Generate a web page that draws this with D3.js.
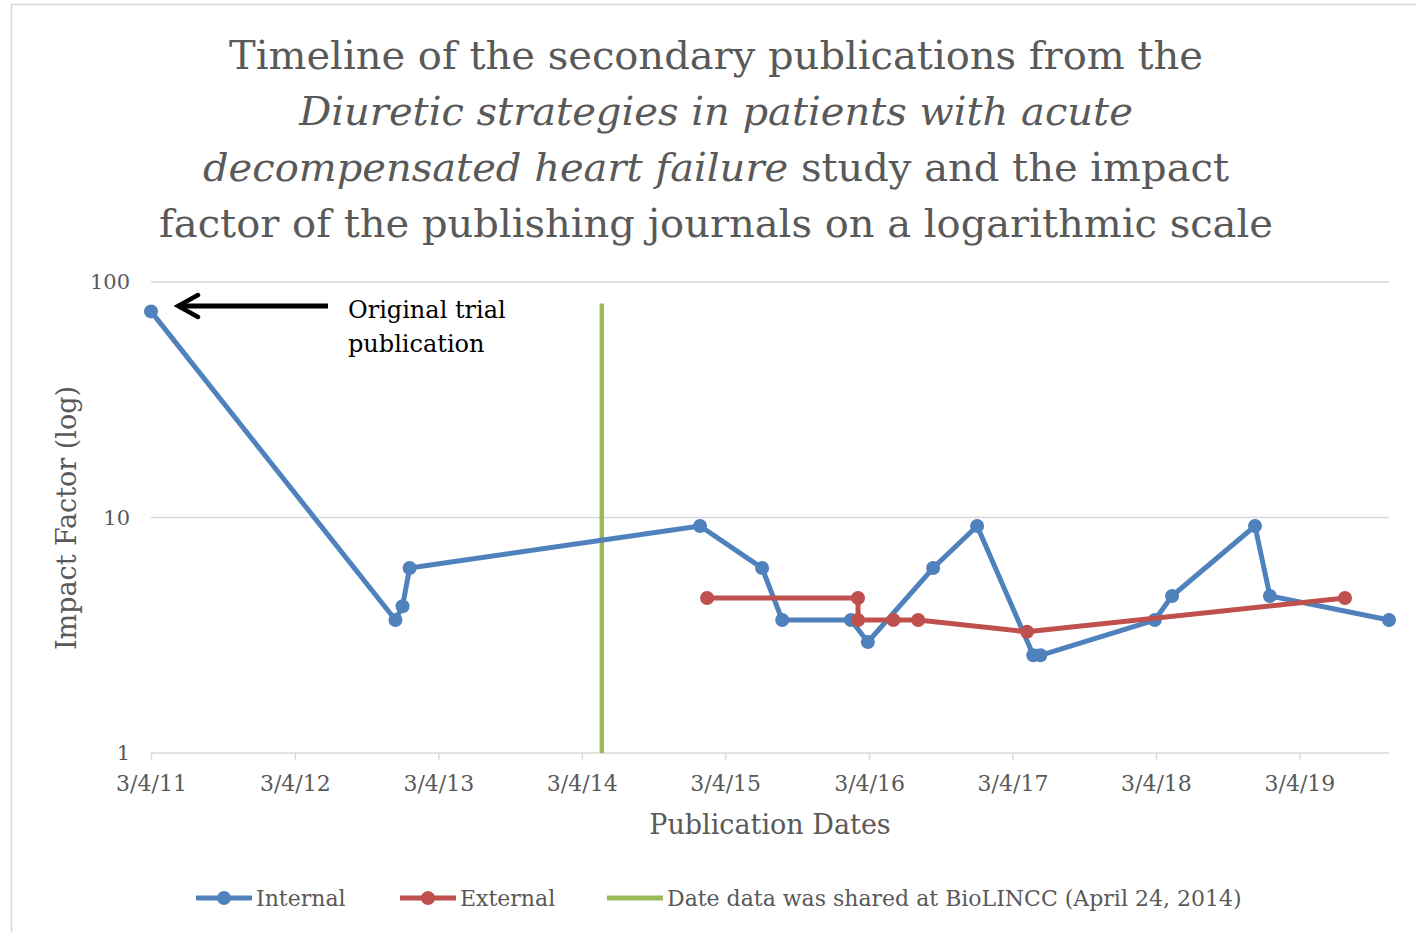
<!DOCTYPE html>
<html>
<head>
<meta charset="utf-8">
<script src="https://cdn.jsdelivr.net/npm/d3@7"></script>
<style>
  body { margin: 0; background: #fff; }
  text { font-family: "DejaVu Serif", "Liberation Serif", serif; }
</style>
</head>
<body>
<svg id="chart" width="1416" height="932"></svg>
<script>
let parse = d3.timeParse("%Y-%m-%d");

let internalDates = ["2011-03-04", "2012-11-15", "2012-12-03", "2012-12-21", "2014-12-30", "2015-06-06",
    "2015-07-27", "2016-01-18", "2016-03-01", "2016-08-14", "2016-12-04", "2017-04-26", "2017-05-14",
    "2018-03-01", "2018-04-14", "2018-11-11", "2018-12-19", "2019-10-18"];
let internalValues = [75, 3.67, 4.2, 6.1, 9.2, 6.1, 3.67, 3.67, 2.96, 6.1, 9.2, 2.6, 2.6, 3.67, 4.64, 9.2, 4.64, 3.67];

let externalDates = ["2015-01-17", "2016-02-05", "2016-02-05", "2016-05-05", "2016-07-07", "2017-04-10", "2019-06-28"];
let externalValues = [4.55, 4.55, 3.67, 3.67, 3.67, 3.27, 4.55];

let sharedDate = "2014-04-24";
let sharedRange = [1, 81];

let tickDates = ["2011-03-04", "2012-03-04", "2013-03-04", "2014-03-04", "2015-03-04",
    "2016-03-04", "2017-03-04", "2018-03-04", "2019-03-04"];
let yTicks = [1, 10, 100];

let titleLines = [
    [["Timeline of the secondary publications from the", false]],
    [["Diuretic strategies in patients with acute", true]],
    [["decompensated heart failure", true], [" study and the impact", false]],
    [["factor of the publishing journals on a logarithmic scale", false]]
];

let legendItems = [
    {name: "Internal", color: "#4F81BD", marker: true},
    {name: "External", color: "#C0504D", marker: true},
    {name: "Date data was shared at BioLINCC (April 24, 2014)", color: "#9BBB59", marker: false}
];

let blue = "#4F81BD", red = "#C0504D", green = "#9BBB59", textGray = "#595959", gridGray = "#D9D9D9";

let svg = d3.select("#chart");

// chart frame
svg.append("rect")
    .attr("x", 11.5).attr("y", 4.5)
    .attr("width", 1420).attr("height", 940)
    .attr("fill", "#fff")
    .attr("stroke", gridGray)
    .attr("stroke-width", 1.5);

let x = d3.scaleTime()
    .domain([parse(internalDates[0]), parse(internalDates[internalDates.length - 1])])
    .range([151, 1389]);
let y = d3.scaleLog().domain([1, 100]).range([753, 282]);

// title
let title = svg.append("text")
    .attr("text-anchor", "middle")
    .attr("fill", textGray)
    .style("font-size", "40px");
titleLines.forEach((line, i) => {
    let t = title.append("tspan").attr("x", 716).attr("y", 69 + i * 56);
    line.forEach(part => {
        t.append("tspan").style("font-style", part[1] ? "italic" : "normal").text(part[0]);
    });
});

// gridlines
svg.append("g")
    .selectAll("line")
    .data(yTicks.filter(d => d > 1))
    .join("line")
    .attr("x1", 151).attr("x2", 1389)
    .attr("y1", d => y(d)).attr("y2", d => y(d))
    .attr("stroke", gridGray).attr("stroke-width", 1.5);

// x axis
let xAxis = svg.append("g")
    .attr("transform", "translate(0," + y(1) + ")")
    .call(d3.axisBottom(x)
        .tickValues(tickDates.map(parse))
        .tickFormat(d3.timeFormat("%-m/%-d/%y"))
        .tickSize(7)
        .tickSizeOuter(0)
        .tickPadding(15));
xAxis.select(".domain").attr("stroke", gridGray).attr("stroke-width", 1.5)
    .attr("d", "M151,0H1389");
xAxis.selectAll(".tick line").attr("stroke", gridGray).attr("stroke-width", 1.5);
xAxis.selectAll(".tick text")
    .attr("fill", textGray)
    .style("font-size", "22px")
    .style("font-family", "DejaVu Serif");

// y axis labels
svg.append("g")
    .selectAll("text")
    .data(yTicks)
    .join("text")
    .attr("x", 130)
    .attr("y", d => y(d))
    .attr("dy", "0.35em")
    .attr("text-anchor", "end")
    .attr("fill", textGray)
    .style("font-size", "21px")
    .text(d => d);

// axis titles
svg.append("text")
    .attr("transform", "translate(76,518) rotate(-90)")
    .attr("text-anchor", "middle")
    .attr("fill", textGray)
    .style("font-size", "27px")
    .text("Impact Factor (log)");

svg.append("text")
    .attr("x", 770).attr("y", 834)
    .attr("text-anchor", "middle")
    .attr("fill", textGray)
    .style("font-size", "27px")
    .text("Publication Dates");

// BioLINCC line
svg.append("line")
    .attr("x1", x(parse(sharedDate))).attr("x2", x(parse(sharedDate)))
    .attr("y1", y(sharedRange[0])).attr("y2", y(sharedRange[1]))
    .attr("stroke", green).attr("stroke-width", 4.5);

let line = d3.line().x(d => x(d[0])).y(d => y(d[1]));

let drawSeries = (dates, values, color) => {
    let pts = dates.map((d, i) => [parse(d), values[i]]);
    svg.append("path")
        .datum(pts)
        .attr("fill", "none")
        .attr("stroke", color)
        .attr("stroke-width", 5)
        .attr("stroke-linejoin", "round")
        .attr("d", line);
    svg.append("g")
        .selectAll("circle")
        .data(pts)
        .join("circle")
        .attr("cx", d => x(d[0]))
        .attr("cy", d => y(d[1]))
        .attr("r", 7)
        .attr("fill", color);
};

drawSeries(internalDates, internalValues, blue);
drawSeries(externalDates, externalValues, red);

// annotation arrow
svg.append("defs").append("marker")
    .attr("id", "arrowhead")
    .attr("viewBox", "-24 -14 28 28")
    .attr("refX", 0)
    .attr("refY", 0)
    .attr("orient", "auto")
    .attr("markerUnits", "userSpaceOnUse")
    .attr("markerWidth", 28)
    .attr("markerHeight", 28)
    .append("path")
    .attr("d", "M -20,-11 L 0,0 L -20,11")
    .attr("fill", "none")
    .attr("stroke", "black")
    .attr("stroke-width", 4.5)
    .attr("stroke-linejoin", "miter")
    .attr("stroke-linecap", "round");

svg.append("line")
    .attr("x1", 328).attr("y1", 306)
    .attr("x2", 178).attr("y2", 306)
    .attr("stroke", "black")
    .attr("stroke-width", 5)
    .attr("marker-end", "url(#arrowhead)");

let note = svg.append("text")
    .attr("fill", "black")
    .style("font-size", "24px");
note.append("tspan").attr("x", 348).attr("y", 318).text("Original trial");
note.append("tspan").attr("x", 348).attr("y", 352).text("publication");

// legend
let legendX = [196, 400, 607];
legendItems.forEach((item, i) => {
    let g = svg.append("g").attr("transform", "translate(" + legendX[i] + ",898)");
    g.append("line")
        .attr("x1", 0).attr("x2", 56)
        .attr("stroke", item.color).attr("stroke-width", 5);
    if (item.marker) {
        g.append("circle").attr("cx", 28).attr("r", 7).attr("fill", item.color);
    }
    g.append("text")
        .attr("x", 60).attr("dy", "0.35em")
        .attr("fill", textGray)
        .style("font-size", "22px")
        .text(item.name);
});
</script>
</body>
</html>
